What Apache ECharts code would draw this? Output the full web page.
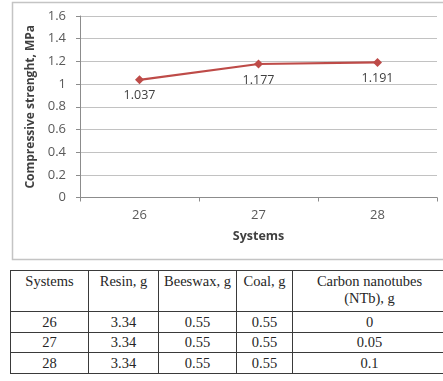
<!DOCTYPE html>
<html>
<head>
<meta charset="utf-8">
<script src="https://cdn.jsdelivr.net/npm/echarts@6/dist/echarts.min.js"></script>
<style>
  html, body { margin: 0; padding: 0; background: #fff; overflow: hidden; }
  #chart { position: absolute; left: 0; top: 0; width: 443px; height: 265px; }
  #mix {
    position: absolute; left: 10px; top: 270px; width: 436px;
    border-collapse: collapse; table-layout: fixed;
    font-family: "Liberation Serif", "DejaVu Serif", serif;
    font-size: 14.5px; color: #262626;
  }
  #mix td, #mix th {
    border: 1px solid #3a3a3a; text-align: center; font-weight: normal;
    padding: 0 2px; box-sizing: border-box;
  }
  #mix th { vertical-align: top; height: 41px; padding-top: 2px; line-height: 17px; white-space: pre-line; }
  #mix td { height: 20.5px; line-height: 18px; padding: 0 2px; }
</style>
</head>
<body>
<div id="chart"></div>
<table id="mix"></table>
<script>
// Compressive strength per system
const systems = ['26', '27', '28'];
const strength = [1.037, 1.177, 1.191];
const yTicks = [0, 0.2, 0.4, 0.6, 0.8, 1, 1.2, 1.4, 1.6];

// Composition of each system (grams)
const tableHeaders = ['Systems', 'Resin, g', 'Beeswax, g', 'Coal, g', 'Carbon nanotubes\n(NTb), g'];
const resin = [3.34, 3.34, 3.34];
const beeswax = [0.55, 0.55, 0.55];
const coal = [0.55, 0.55, 0.55];
const nanotubes = [0, 0.05, 0.1];

const chart = echarts.init(document.getElementById('chart'), null, { renderer: 'canvas' });
const sans = '"Open Sans", "Liberation Sans", sans-serif';

chart.setOption({
  animation: false,
  graphic: [{
    type: 'rect',
    shape: { x: 12.5, y: 2.5, width: 440, height: 257 },
    style: { fill: 'none', stroke: '#c4c4c4', lineWidth: 1.5 },
    silent: true
  }],
  grid: { left: 80, right: 6, top: 16, height: 181.5 },
  xAxis: {
    type: 'category',
    data: systems,
    boundaryGap: true,
    axisLine: { lineStyle: { color: '#8c8c8c', width: 1 } },
    axisTick: { show: true, length: 4, lineStyle: { color: '#8c8c8c' } },
    axisLabel: { color: '#595959', fontSize: 13, fontFamily: sans, margin: 11 },
    name: 'Systems',
    nameLocation: 'middle',
    nameGap: 32,
    nameTextStyle: { color: '#404040', fontSize: 12.5, fontWeight: 'bold', fontFamily: sans }
  },
  yAxis: {
    type: 'value',
    min: yTicks[0],
    max: yTicks[yTicks.length - 1],
    interval: 0.2,
    axisLine: { show: true, lineStyle: { color: '#8c8c8c', width: 1 } },
    axisTick: { show: true, length: 4, lineStyle: { color: '#8c8c8c' } },
    splitLine: { lineStyle: { color: '#c2c2c2', width: 1 } },
    axisLabel: {
      color: '#595959', fontSize: 13, fontFamily: sans, margin: 14,
      formatter: v => String(+v.toFixed(1))
    },
    name: 'Compressive strenght, MPa',
    nameLocation: 'middle',
    nameGap: 40,
    nameTextStyle: { color: '#404040', fontSize: 12, fontWeight: 'bold', fontFamily: sans }
  },
  series: [{
    type: 'line',
    data: strength,
    symbol: 'diamond',
    symbolSize: 9,
    itemStyle: { color: '#be4b48' },
    lineStyle: { color: '#be4b48', width: 2.2 },
    label: {
      show: true, position: 'bottom', distance: 5,
      color: '#404040', fontSize: 12.5, fontFamily: sans,
      formatter: p => p.value.toFixed(3)
    }
  }]
});

// Composition table
const colWidths = [78, 70, 78, 56, 154];
const table = document.getElementById('mix');
const cg = document.createElement('colgroup');
colWidths.forEach(w => { const c = document.createElement('col'); c.style.width = w + 'px'; cg.appendChild(c); });
table.appendChild(cg);
const hr = document.createElement('tr');
tableHeaders.forEach(h => { const th = document.createElement('th'); th.textContent = h; hr.appendChild(th); });
table.appendChild(hr);
systems.forEach((s, i) => {
  const tr = document.createElement('tr');
  [s, resin[i], beeswax[i], coal[i], nanotubes[i]].forEach(v => {
    const td = document.createElement('td'); td.textContent = String(v); tr.appendChild(td);
  });
  table.appendChild(tr);
});
</script>
</body>
</html>
